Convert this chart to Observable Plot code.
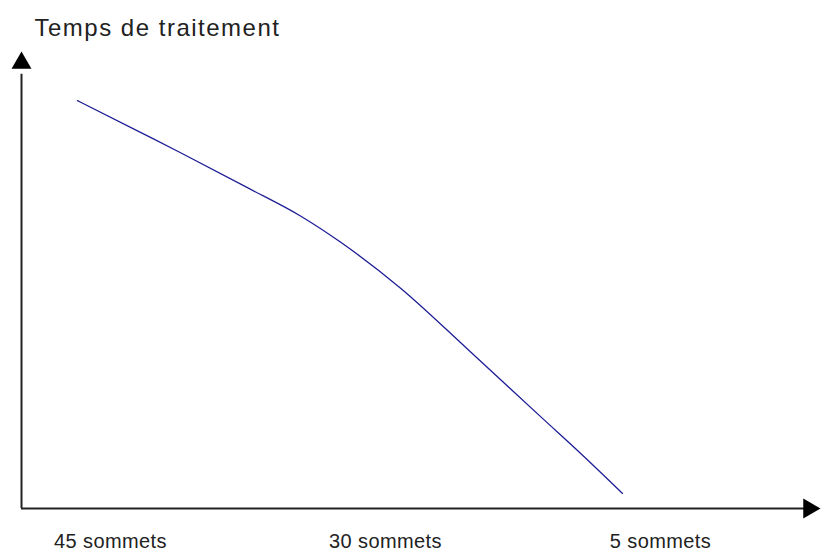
<!DOCTYPE html>
<html>
<head>
<meta charset="utf-8">
<script src="https://cdn.jsdelivr.net/npm/d3@7"></script>
<script src="https://cdn.jsdelivr.net/npm/@observablehq/plot@0.6"></script>
<style>
  html, body { margin: 0; padding: 0; background: #fff; }
  #chart { width: 821px; height: 554px; overflow: hidden; }
</style>
</head>
<body>
<div id="chart"></div>
<script>
// Categories along the horizontal axis (left to right) and their positions
const categories = ["45 sommets", "30 sommets", "5 sommets"];
const categoryPos = [0, 1, 2];

// Axis title
const yTitle = "Temps de traitement";

// Sketched curve (x in category-position units, y in arbitrary time units 0..100)
const curveX = [-0.12, 0.109, 0.255, 0.498, 0.691, 0.836, 1.055, 1.298, 1.575, 1.709, 1.862];
const curveY = [89.25, 82.3, 77.85, 70.2, 64.0, 58.3, 48.2, 34.9, 19.5, 12.1, 3.3];

// Axis extents
const xMin = -0.3236, xMax = 2.582;
const yMin = 0, yMax = 100;

const curve = curveX.map((x, i) => ({x, y: curveY[i]}));
const labels = categories.map((name, i) => ({name, x: categoryPos[i]}));

const chart = Plot.plot({
  width: 821,
  height: 554,
  marginLeft: 21,
  marginRight: 1,
  marginTop: 51,
  marginBottom: 46,
  style: {fontFamily: "Liberation Sans, Arial, sans-serif", background: "#fff"},
  x: {domain: [xMin, xMax], axis: null},
  y: {domain: [yMin, yMax], axis: null},
  marks: [
    // axes
    Plot.ruleX([xMin], {y1: yMin, y2: yMax - 5, stroke: "#222", strokeWidth: 2}),
    Plot.ruleY([yMin], {x1: xMin, x2: xMax - 0.05, stroke: "#222", strokeWidth: 2}),
    Plot.dot([{x: xMin, y: yMax}], {x: "x", y: "y", symbol: "triangle", r: 7.4, fill: "#000", stroke: null, dy: 11.5}),
    Plot.dot([{x: xMax, y: yMin}], {x: "x", y: "y", symbol: "triangle", r: 7.4, rotate: 90, fill: "#000", stroke: null, dx: -11.5}),
    // curve
    Plot.line(curve, {x: "x", y: "y", curve: "monotone-x", stroke: "#1e1e96", strokeWidth: 1.3}),
    // category labels
    Plot.text(labels, {x: "x", y: () => yMin, text: "name", dy: 33, fontSize: 20, fill: "#222"}),
    // axis title
    Plot.text([yTitle], {frameAnchor: "top-left", dx: 13, dy: -16, lineAnchor: "bottom", textAnchor: "start", fontSize: 24, fill: "#222"})
  ]
});
d3.select(chart).selectAll("text").each(function() {
  const t = this.textContent;
  if (t === yTitle) this.style.letterSpacing = "1.5px";
  else if (categories.includes(t)) this.style.letterSpacing = "0.4px";
});
document.getElementById("chart").append(chart);
</script>
</body>
</html>
